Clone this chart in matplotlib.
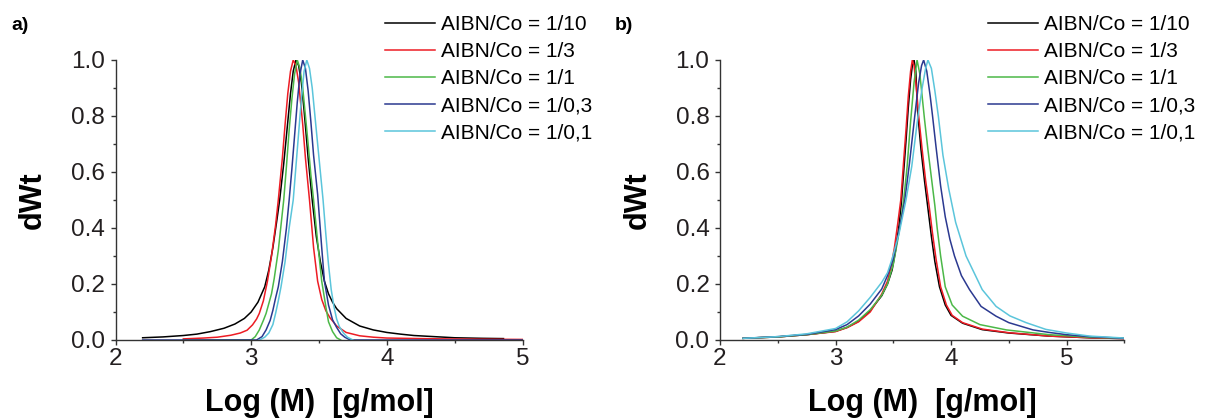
import numpy as np
import matplotlib
matplotlib.use('Agg')
from matplotlib import pyplot as plt
from matplotlib.ticker import MultipleLocator, FormatStrFormatter

plt.rcParams['font.family'] = ['Liberation Sans', 'DejaVu Sans']

LABELS = ['AIBN/Co = 1/10', 'AIBN/Co = 1/3', 'AIBN/Co = 1/1', 'AIBN/Co = 1/0,3', 'AIBN/Co = 1/0,1']
COLORS = ['#000000', '#ed1c24', '#4cb848', '#2b3990', '#5bc5db']

# ---- panel a) : Log(M) vs dWt ----
A_BLACK_X = [2.20, 2.35, 2.50, 2.60, 2.70, 2.80, 2.88, 2.95, 3.00, 3.05, 3.10, 3.13, 3.16, 3.19, 3.21, 3.24, 3.27,
             3.29, 3.31, 3.33, 3.35, 3.37, 3.39, 3.42, 3.45, 3.48, 3.51, 3.54, 3.57, 3.60, 3.63, 3.70, 3.80, 3.90,
             4.00, 4.10, 4.20, 4.35, 4.50, 4.70, 4.86]
A_BLACK_Y = [0.008, 0.011, 0.016, 0.021, 0.030, 0.042, 0.057, 0.077, 0.100, 0.135, 0.190, 0.250, 0.330, 0.430,
             0.500, 0.630, 0.780, 0.880, 0.960, 1.000, 0.980, 0.920, 0.820, 0.650, 0.500, 0.370, 0.280, 0.210,
             0.165, 0.135, 0.112, 0.077, 0.050, 0.036, 0.027, 0.021, 0.016, 0.012, 0.008, 0.006, 0.005]

A_RED_X = [2.50, 2.65, 2.75, 2.85, 2.92, 2.97, 3.01, 3.04, 3.06, 3.09, 3.12, 3.15, 3.18, 3.20, 3.23, 3.25, 3.27,
           3.29, 3.31, 3.33, 3.35, 3.38, 3.40, 3.43, 3.46, 3.49, 3.52, 3.55, 3.58, 3.63, 3.70, 3.80, 3.90, 4.00,
           4.25, 4.50, 5.00]
A_RED_Y = [0.004, 0.007, 0.010, 0.017, 0.025, 0.035, 0.054, 0.075, 0.095, 0.140, 0.210, 0.300, 0.410, 0.500,
           0.650, 0.770, 0.880, 0.960, 1.000, 0.980, 0.920, 0.770, 0.650, 0.500, 0.330, 0.210, 0.145, 0.105,
           0.080, 0.050, 0.027, 0.015, 0.010, 0.007, 0.005, 0.0035, 0.002]

A_GREEN_X = [2.50, 3.00, 3.03, 3.06, 3.09, 3.11, 3.13, 3.15, 3.17, 3.20, 3.22, 3.24, 3.26, 3.28, 3.30, 3.32, 3.34,
             3.36, 3.38, 3.40, 3.42, 3.44, 3.46, 3.49, 3.52, 3.55, 3.57, 3.60, 3.63, 3.66]
A_GREEN_Y = [0.0, 0.0, 0.012, 0.036, 0.070, 0.095, 0.130, 0.165, 0.220, 0.320, 0.410, 0.500, 0.620, 0.750, 0.860,
             0.950, 1.000, 0.970, 0.900, 0.800, 0.700, 0.590, 0.500, 0.350, 0.210, 0.120, 0.065, 0.030, 0.008, 0.0]

A_BLUE_X = [2.20, 3.04, 3.08, 3.11, 3.14, 3.16, 3.18, 3.20, 3.23, 3.26, 3.28, 3.30, 3.32, 3.34, 3.36, 3.38, 3.40,
            3.42, 3.44, 3.46, 3.49, 3.52, 3.54, 3.57, 3.60, 3.63, 3.66, 3.69, 3.73, 5.00]
A_BLUE_Y = [0.0, 0.0, 0.012, 0.036, 0.070, 0.106, 0.150, 0.190, 0.280, 0.400, 0.500, 0.610, 0.730, 0.850, 0.950,
            1.000, 0.970, 0.890, 0.780, 0.660, 0.520, 0.330, 0.210, 0.125, 0.072, 0.045, 0.022, 0.010, 0.0, 0.0]

A_CYAN_X = [3.06, 3.10, 3.13, 3.16, 3.18, 3.20, 3.22, 3.25, 3.28, 3.31, 3.33, 3.35, 3.37, 3.39, 3.41, 3.43, 3.45,
            3.47, 3.49, 3.51, 3.53, 3.55, 3.57, 3.59, 3.61, 3.63, 3.65, 3.68, 3.71, 3.75]
A_CYAN_Y = [0.0, 0.010, 0.025, 0.055, 0.095, 0.140, 0.190, 0.280, 0.400, 0.500, 0.620, 0.740, 0.860, 0.960, 1.000,
            0.970, 0.900, 0.800, 0.700, 0.600, 0.500, 0.380, 0.270, 0.180, 0.120, 0.075, 0.048, 0.025, 0.010, 0.0]

# ---- panel b) ----
B_BLACK_X = [2.20, 2.50, 2.75, 3.00, 3.10, 3.20, 3.30, 3.40, 3.45, 3.49, 3.52, 3.55, 3.57, 3.59, 3.61, 3.63, 3.65,
             3.665, 3.68, 3.695, 3.71, 3.74, 3.77, 3.80, 3.83, 3.86, 3.90, 3.95, 4.00, 4.10, 4.27, 4.50, 4.85,
             5.20, 5.50]
B_BLACK_Y = [0.006, 0.011, 0.019, 0.031, 0.045, 0.067, 0.105, 0.158, 0.200, 0.250, 0.320, 0.410, 0.490, 0.600,
             0.710, 0.830, 0.930, 0.980, 1.000, 0.960, 0.820, 0.680, 0.570, 0.470, 0.370, 0.280, 0.190, 0.125,
             0.088, 0.060, 0.037, 0.025, 0.014, 0.008, 0.005]

B_RED_X = [2.20, 2.50, 2.75, 3.00, 3.10, 3.20, 3.30, 3.40, 3.45, 3.48, 3.51, 3.54, 3.565, 3.59, 3.61, 3.63, 3.65,
           3.665, 3.68, 3.70, 3.72, 3.75, 3.78, 3.81, 3.84, 3.87, 3.91, 3.96, 4.01, 4.10, 4.27, 4.50, 4.85, 5.20,
           5.50]
B_RED_Y = [0.006, 0.011, 0.019, 0.030, 0.044, 0.065, 0.100, 0.164, 0.210, 0.260, 0.330, 0.420, 0.500, 0.640,
           0.750, 0.870, 0.960, 1.000, 0.980, 0.900, 0.800, 0.680, 0.570, 0.480, 0.380, 0.290, 0.190, 0.125,
           0.088, 0.062, 0.039, 0.026, 0.014, 0.008, 0.005]

B_GREEN_X = [2.20, 2.50, 2.75, 3.00, 3.10, 3.20, 3.30, 3.40, 3.45, 3.50, 3.54, 3.57, 3.59, 3.62, 3.65, 3.68, 3.706,
             3.73, 3.75, 3.77, 3.80, 3.83, 3.86, 3.88, 3.91, 3.95, 4.01, 4.10, 4.25, 4.48, 4.85, 5.20, 5.50]
B_GREEN_Y = [0.006, 0.011, 0.019, 0.032, 0.046, 0.071, 0.108, 0.160, 0.200, 0.270, 0.360, 0.440, 0.500, 0.620,
             0.780, 0.920, 1.000, 0.950, 0.870, 0.790, 0.680, 0.580, 0.480, 0.400, 0.300, 0.190, 0.125, 0.085,
             0.055, 0.036, 0.019, 0.010, 0.006]

B_BLUE_X = [2.20, 2.50, 2.75, 3.00, 3.10, 3.20, 3.30, 3.40, 3.45, 3.50, 3.55, 3.60, 3.64, 3.686, 3.72, 3.745, 3.763,
            3.79, 3.82, 3.84, 3.87, 3.91, 3.95, 3.99, 4.03, 4.09, 4.16, 4.26, 4.39, 4.50, 4.71, 4.85, 5.00, 5.20,
            5.50]
B_BLUE_Y = [0.006, 0.012, 0.020, 0.037, 0.055, 0.086, 0.128, 0.182, 0.230, 0.290, 0.390, 0.500, 0.630, 0.800,
            0.920, 0.980, 1.000, 0.960, 0.870, 0.800, 0.690, 0.550, 0.440, 0.360, 0.300, 0.230, 0.180, 0.120,
            0.085, 0.062, 0.036, 0.027, 0.019, 0.012, 0.006]

B_CYAN_X = [2.20, 2.50, 2.75, 3.00, 3.10, 3.20, 3.30, 3.40, 3.45, 3.49, 3.55, 3.61, 3.66, 3.714, 3.75, 3.78, 3.80,
            3.83, 3.86, 3.89, 3.93, 3.98, 4.04, 4.13, 4.27, 4.39, 4.51, 4.65, 4.82, 5.00, 5.20, 5.50]
B_CYAN_Y = [0.006, 0.012, 0.022, 0.041, 0.065, 0.104, 0.152, 0.206, 0.240, 0.290, 0.380, 0.500, 0.620, 0.800,
            0.900, 0.970, 1.000, 0.970, 0.890, 0.800, 0.660, 0.540, 0.420, 0.300, 0.180, 0.120, 0.086, 0.062,
            0.038, 0.025, 0.014, 0.007]

PANEL_A = [(A_BLACK_X, A_BLACK_Y), (A_RED_X, A_RED_Y), (A_GREEN_X, A_GREEN_Y), (A_BLUE_X, A_BLUE_Y),
           (A_CYAN_X, A_CYAN_Y)]
PANEL_B = [(B_BLACK_X, B_BLACK_Y), (B_RED_X, B_RED_Y), (B_GREEN_X, B_GREEN_Y), (B_BLUE_X, B_BLUE_Y),
           (B_CYAN_X, B_CYAN_Y)]

AXIS_COLOR = '#333333'
W, H = 1206, 420


def draw_panel(fig, rect, curves, xmax, tag, tag_x, legend_x):
    ax = fig.add_axes(rect)
    for (xs, ys), color, label in zip(curves, COLORS, LABELS):
        ax.plot(xs, ys, color=color, lw=1.1, label=label)

    ax.set_xlim(2, xmax)
    ax.set_ylim(0, 1.0)
    ax.xaxis.set_major_locator(MultipleLocator(1))
    ax.xaxis.set_minor_locator(MultipleLocator(0.5))
    ax.yaxis.set_major_locator(MultipleLocator(0.2))
    ax.yaxis.set_minor_locator(MultipleLocator(0.1))
    ax.yaxis.set_major_formatter(FormatStrFormatter('%.1f'))

    for side in ['top', 'right']:
        ax.spines[side].set_visible(False)
    for side in ['left', 'bottom']:
        ax.spines[side].set_color(AXIS_COLOR)
        ax.spines[side].set_linewidth(1.0)
    ax.tick_params(which='both', direction='out', color=AXIS_COLOR, width=1.0)
    ax.tick_params(which='major', length=3.6, labelsize=17.5, labelcolor='#231f20')
    ax.tick_params(axis='x', which='major', pad=2)
    ax.tick_params(axis='y', which='major', pad=4)
    ax.tick_params(which='minor', length=2.4)

    # label sits low, just inside the bottom edge
    ax.set_xlabel('Log (M)  [g/mol]', fontsize=22, fontweight='bold', va='bottom')
    ax.xaxis.set_label_coords(0.5, -78 / 280)
    ax.set_ylabel('dWt', fontsize=22, fontweight='bold', va='center')
    ax.yaxis.set_label_coords(-0.203, 0.5)

    ax.legend(loc='upper left', bbox_to_anchor=(legend_x / W, 1 - 15 / H), bbox_transform=fig.transFigure,
              frameon=False, fontsize=15, handlelength=2.4, handletextpad=0.29, labelspacing=0.39,
              borderaxespad=0, borderpad=0)
    fig.text(tag_x / W, 1 - 26 / H, tag, fontsize=14, fontweight='bold', va='center', ha='left')
    return ax


fig = plt.figure(figsize=(W / 100, H / 100), dpi=100)
draw_panel(fig, [115.5 / W, 80 / H, 407 / W, 280 / H], PANEL_A, 5, 'a)', 11, 385)
draw_panel(fig, [720 / W, 80 / H, 404.3 / W, 280 / H], PANEL_B, 5.5, 'b)', 615, 988)
fig.savefig('out.png', dpi=100)
